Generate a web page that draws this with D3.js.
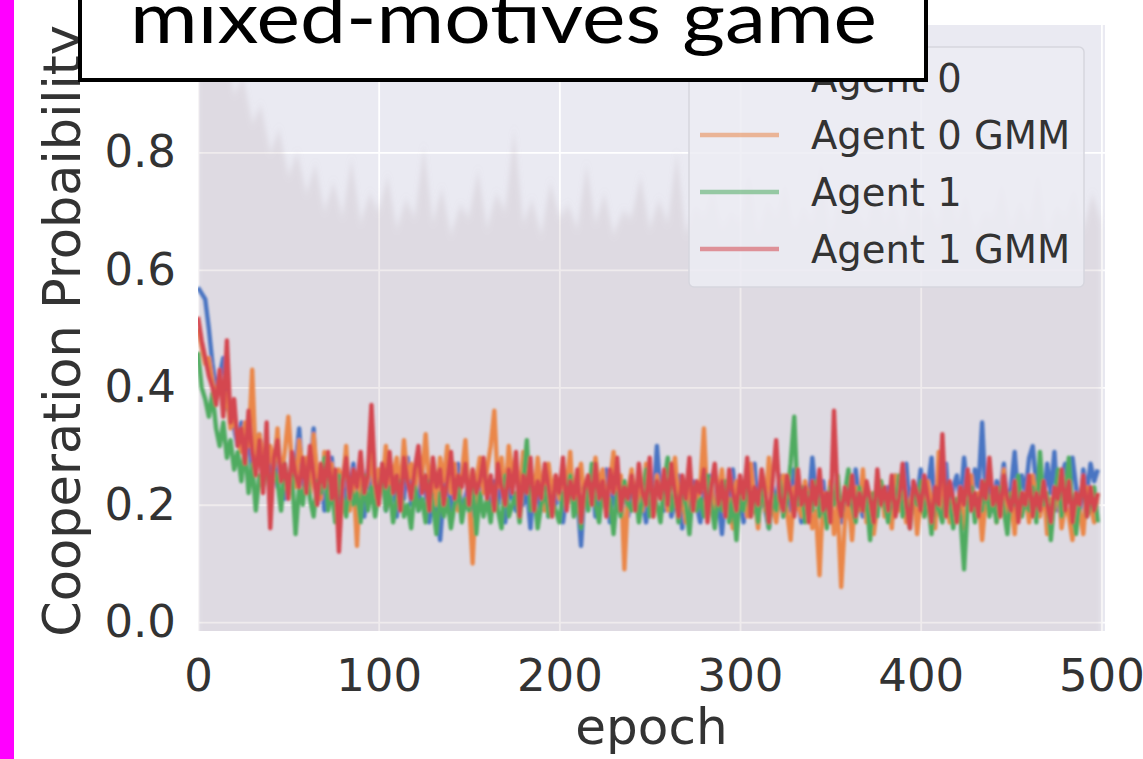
<!DOCTYPE html>
<html>
<head>
<meta charset="utf-8">
<script src="https://cdn.jsdelivr.net/npm/d3@7"></script>
<style>
  body { margin: 0; background: #fff; }
  svg { display: block; }
</style>
</head>
<body>
<div id="chart"></div>
<script>
// values, one point every 2 epochs
const seriesNames = ["Agent 0", "Agent 0 GMM", "Agent 1", "Agent 1 GMM"];
const seriesColors = ["#4a74c2", "#ea8748", "#4fab60", "#d4474f"];
const epochStep = 2;

const agent0 = [
  0.57,0.56,0.55,0.50,0.44,0.40,0.42,0.45,0.37,0.35,
  0.33,0.30,0.34,0.28,0.31,0.26,0.29,0.32,0.25,0.27,
  0.24,0.29,0.23,0.26,0.21,0.25,0.22,0.27,0.33,0.24,
  0.22,0.26,0.33,0.20,0.25,0.19,0.23,0.28,0.21,0.24,
  0.19,0.25,0.22,0.27,0.20,0.23,0.18,0.26,0.22,0.24,
  0.21,0.27,0.19,0.23,0.25,0.18,0.24,0.21,0.28,0.20,
  0.23,0.19,0.26,0.22,0.17,0.24,0.20,0.14,0.22,0.25,
  0.19,0.23,0.27,0.18,0.21,0.24,0.17,0.22,0.20,0.25,
  0.22,0.18,0.24,0.20,0.26,0.17,0.23,0.21,0.19,0.25,
  0.20,0.23,0.16,0.24,0.21,0.19,0.26,0.18,0.22,0.20,
  0.24,0.17,0.22,0.27,0.19,0.21,0.13,0.23,0.20,0.25,
  0.18,0.22,0.20,0.26,0.17,0.23,0.19,0.21,0.24,0.18,
  0.22,0.19,0.25,0.21,0.17,0.24,0.20,0.30,0.22,0.19,
  0.23,0.18,0.21,0.25,0.16,0.22,0.19,0.24,0.20,0.17,
  0.22,0.19,0.25,0.18,0.21,0.15,0.23,0.20,0.26,0.19,
  0.21,0.17,0.24,0.20,0.27,0.18,0.22,0.19,0.16,0.23,
  0.20,0.25,0.18,0.22,0.19,0.26,0.21,0.17,0.23,0.20,
  0.28,0.22,0.19,0.24,0.18,0.21,0.20,0.23,0.17,0.22,
  0.25,0.19,0.26,0.21,0.18,0.23,0.20,0.16,0.24,0.21,
  0.19,0.23,0.17,0.25,0.20,0.22,0.27,0.19,0.24,0.21,
  0.26,0.20,0.23,0.28,0.19,0.24,0.21,0.27,0.18,0.23,
  0.25,0.20,0.28,0.22,0.19,0.26,0.23,0.34,0.21,0.25,
  0.19,0.24,0.22,0.27,0.20,0.23,0.29,0.21,0.25,0.22,
  0.28,0.30,0.23,0.26,0.20,0.27,0.22,0.29,0.19,0.25,
  0.27,0.21,0.28,0.23,0.18,0.26,0.22,0.27,0.24,0.26
];

const agent0Gmm = [
  0.50,0.47,0.44,0.45,0.41,0.38,0.42,0.36,0.39,0.33,
  0.35,0.31,0.29,0.34,0.30,0.43,0.27,0.32,0.28,0.25,
  0.30,0.26,0.33,0.24,0.29,0.35,0.27,0.23,0.31,0.26,
  0.28,0.22,0.32,0.25,0.21,0.29,0.24,0.27,0.20,0.26,
  0.23,0.30,0.19,0.25,0.13,0.27,0.22,0.24,0.29,0.21,
  0.26,0.23,0.30,0.20,0.25,0.28,0.22,0.31,0.24,0.27,
  0.21,0.29,0.25,0.32,0.23,0.26,0.20,0.28,0.24,0.30,
  0.22,0.27,0.19,0.25,0.31,0.21,0.10,0.24,0.28,0.22,
  0.26,0.30,0.36,0.23,0.28,0.21,0.30,0.25,0.27,0.22,
  0.29,0.24,0.26,0.21,0.28,0.23,0.19,0.27,0.22,0.25,
  0.21,0.26,0.23,0.29,0.19,0.24,0.27,0.20,0.25,0.22,
  0.28,0.23,0.26,0.20,0.24,0.29,0.21,0.25,0.09,0.22,
  0.26,0.20,0.24,0.19,0.27,0.22,0.18,0.25,0.21,0.23,
  0.19,0.24,0.28,0.20,0.22,0.17,0.25,0.21,0.19,0.23,
  0.33,0.20,0.24,0.17,0.22,0.26,0.19,0.21,0.16,0.24,
  0.20,0.23,0.18,0.27,0.21,0.16,0.24,0.19,0.28,0.20,
  0.17,0.22,0.25,0.19,0.14,0.23,0.20,0.18,0.24,0.21,
  0.16,0.19,0.08,0.22,0.18,0.24,0.15,0.20,0.06,0.17,
  0.21,0.14,0.23,0.19,0.26,0.17,0.22,0.15,0.20,0.24,
  0.18,0.21,0.16,0.25,0.19,0.22,0.17,0.20,0.23,0.15,
  0.21,0.18,0.24,0.20,0.16,0.29,0.19,0.22,0.17,0.21,
  0.19,0.23,0.16,0.20,0.25,0.18,0.22,0.14,0.21,0.19,
  0.23,0.17,0.20,0.26,0.18,0.21,0.15,0.24,0.19,0.22,
  0.17,0.25,0.20,0.18,0.23,0.15,0.21,0.19,0.24,0.16,
  0.20,0.18,0.14,0.22,0.19,0.15,0.23,0.20,0.17,0.22
];

const agent1 = [
  0.46,0.40,0.38,0.35,0.39,0.33,0.30,0.34,0.28,0.31,
  0.26,0.29,0.24,0.30,0.22,0.27,0.19,0.25,0.23,0.28,
  0.21,0.26,0.24,0.19,0.27,0.22,0.25,0.15,0.23,0.20,
  0.26,0.21,0.18,0.24,0.22,0.28,0.19,0.23,0.17,0.25,
  0.21,0.18,0.24,0.20,0.22,0.17,0.25,0.19,0.23,0.18,
  0.22,0.26,0.19,0.23,0.17,0.21,0.24,0.18,0.20,0.16,
  0.23,0.19,0.21,0.17,0.24,0.20,0.15,0.22,0.18,0.21,
  0.16,0.20,0.23,0.17,0.21,0.19,0.24,0.15,0.22,0.18,
  0.21,0.17,0.23,0.19,0.16,0.25,0.18,0.20,0.22,0.17,
  0.24,0.31,0.19,0.22,0.16,0.20,0.23,0.18,0.21,0.19,
  0.17,0.22,0.20,0.25,0.18,0.21,0.16,0.23,0.19,0.27,
  0.20,0.17,0.23,0.19,0.21,0.15,0.22,0.18,0.24,0.20,
  0.19,0.23,0.17,0.21,0.26,0.18,0.22,0.20,0.17,0.24,
  0.28,0.19,0.22,0.17,0.24,0.20,0.15,0.23,0.19,0.21,
  0.18,0.25,0.20,0.16,0.22,0.19,0.24,0.17,0.21,0.14,
  0.22,0.19,0.25,0.18,0.21,0.17,0.23,0.20,0.16,0.22,
  0.19,0.24,0.18,0.21,0.27,0.35,0.20,0.23,0.17,0.22,
  0.19,0.24,0.18,0.21,0.16,0.23,0.20,0.25,0.18,0.22,
  0.26,0.20,0.17,0.23,0.19,0.21,0.14,0.22,0.18,0.24,
  0.20,0.17,0.22,0.19,0.25,0.18,0.21,0.16,0.23,0.20,
  0.24,0.18,0.21,0.15,0.22,0.19,0.17,0.23,0.20,0.16,
  0.21,0.18,0.09,0.20,0.23,0.17,0.21,0.19,0.24,0.18,
  0.21,0.17,0.23,0.19,0.15,0.22,0.20,0.25,0.18,0.21,
  0.19,0.23,0.17,0.29,0.20,0.22,0.14,0.21,0.26,0.18,
  0.22,0.28,0.19,0.15,0.21,0.24,0.18,0.20,0.23,0.17
];

const agent1Gmm = [
  0.52,0.48,0.45,0.42,0.40,0.37,0.43,0.35,0.48,0.34,
  0.38,0.30,0.33,0.27,0.36,0.29,0.25,0.31,0.22,0.34,
  0.16,0.28,0.31,0.24,0.27,0.21,0.29,0.25,0.23,0.28,
  0.22,0.30,0.25,0.20,0.27,0.23,0.29,0.21,0.26,0.12,
  0.24,0.28,0.21,0.26,0.23,0.29,0.22,0.25,0.37,0.24,
  0.20,0.27,0.23,0.29,0.22,0.25,0.19,0.28,0.24,0.21,
  0.26,0.30,0.22,0.25,0.19,0.28,0.23,0.26,0.20,0.24,
  0.29,0.21,0.25,0.23,0.27,0.20,0.26,0.22,0.24,0.28,
  0.21,0.25,0.19,0.27,0.23,0.20,0.26,0.22,0.29,0.18,
  0.25,0.22,0.28,0.19,0.24,0.21,0.27,0.23,0.18,0.25,
  0.22,0.28,0.19,0.24,0.21,0.26,0.17,0.23,0.25,0.20,
  0.27,0.21,0.24,0.18,0.26,0.22,0.28,0.19,0.23,0.21,
  0.25,0.19,0.27,0.22,0.20,0.28,0.18,0.24,0.21,0.26,
  0.20,0.27,0.22,0.18,0.25,0.21,0.28,0.19,0.24,0.22,
  0.26,0.17,0.23,0.27,0.20,0.24,0.18,0.26,0.22,0.19,
  0.25,0.21,0.28,0.18,0.23,0.20,0.26,0.22,0.17,0.24,
  0.31,0.21,0.19,0.25,0.22,0.18,0.26,0.20,0.23,0.17,
  0.24,0.20,0.26,0.19,0.22,0.17,0.36,0.21,0.18,0.23,
  0.20,0.25,0.18,0.22,0.19,0.24,0.21,0.17,0.26,0.20,
  0.23,0.19,0.25,0.18,0.21,0.27,0.20,0.16,0.24,0.22,
  0.19,0.25,0.21,0.17,0.23,0.20,0.32,0.18,0.24,0.21,
  0.17,0.23,0.20,0.26,0.19,0.22,0.18,0.24,0.21,0.28,
  0.20,0.23,0.18,0.25,0.21,0.19,0.24,0.17,0.22,0.20,
  0.25,0.18,0.22,0.19,0.24,0.20,0.17,0.23,0.21,0.26,
  0.19,0.24,0.17,0.22,0.20,0.25,0.18,0.23,0.19,0.22
];

// faint spread band, upper edge, one point every 5 epochs
const bandStep = 5;
const bandUpper = [
  0.99,1.00,0.96,0.98,0.90,0.93,0.85,0.88,0.80,0.84,
  0.76,0.80,0.73,0.78,0.70,0.75,0.69,0.79,0.68,0.73,
  0.70,0.76,0.67,0.72,0.69,0.81,0.68,0.74,0.66,0.71,
  0.69,0.77,0.67,0.73,0.70,0.84,0.68,0.72,0.66,0.75,
  0.69,0.71,0.67,0.78,0.68,0.73,0.66,0.70,0.69,0.76,
  0.67,0.72,0.68,0.80,0.66,0.71,0.69,0.74,0.67,0.70,
  0.68,0.77,0.66,0.72,0.69,0.75,0.67,0.71,0.68,0.79,
  0.66,0.73,0.69,0.70,0.67,0.76,0.68,0.72,0.66,0.74,
  0.69,0.71,0.67,0.78,0.68,0.73,0.66,0.70,0.69,0.75,
  0.67,0.72,0.68,0.77,0.66,0.71,0.69,0.74,0.67,0.73,
  0.68
];

const xTicks = [0, 100, 200, 300, 400, 500];
const yTicks = [0.0, 0.2, 0.4, 0.6, 0.8];
const titleText = "mixed-motives game";
const xLabel = "epoch";
const yLabel = "Cooperation Probaibility";

const width = 1143, height = 759;
const plot = { left: 198, right: 1105, top: 25, bottom: 631 };

const svg = d3.select("#chart")
  .append("svg")
    .attr("width", width)
    .attr("height", height)
    .style("font-family", "'DejaVu Sans', sans-serif");

svg.append("rect")
  .attr("width", width)
  .attr("height", height)
  .style("fill", "#fff");

const defs = svg.append("defs");
defs.append("filter")
    .attr("id", "soft")
  .append("feGaussianBlur")
    .attr("stdDeviation", 0.8);
defs.append("filter")
    .attr("id", "haze")
    .attr("x", "-5%").attr("y", "-5%").attr("width", "110%").attr("height", "110%")
  .append("feGaussianBlur")
    .attr("stdDeviation", "2.5 5");
defs.append("clipPath")
    .attr("id", "plotClip")
  .append("rect")
    .attr("x", plot.left)
    .attr("y", plot.top)
    .attr("width", plot.right - plot.left)
    .attr("height", plot.bottom - plot.top);

// magenta strip on the left edge
svg.append("rect")
  .attr("x", 0)
  .attr("y", 0)
  .attr("width", 14)
  .attr("height", height)
  .style("fill", "#ff00ff");

const x = d3.scaleLinear()
  .domain([0, 502])
  .range([plot.left, plot.right]);

const y = d3.scaleLinear()
  .domain([-0.015, 1.017])
  .range([plot.bottom, plot.top]);

// axes background
svg.append("rect")
  .attr("x", plot.left)
  .attr("y", plot.top)
  .attr("width", plot.right - plot.left)
  .attr("height", plot.bottom - plot.top)
  .style("fill", "#eaeaf2");

// grid
const gridX = svg.append("g")
  .attr("transform", `translate(0, ${plot.bottom})`)
  .call(d3.axisBottom(x).tickValues(xTicks).tickSize(-(plot.bottom - plot.top)).tickFormat(""));
const gridY = svg.append("g")
  .attr("transform", `translate(${plot.left}, 0)`)
  .call(d3.axisLeft(y).tickValues(yTicks).tickSize(-(plot.right - plot.left)).tickFormat(""));
[gridX, gridY].forEach(g => {
  g.select(".domain").remove();
  g.selectAll("line").attr("stroke", "#fff").attr("stroke-width", 1.8);
});

const plotArea = svg.append("g").attr("clip-path", "url(#plotClip)");

// spread band (soft, streaky top edge)
plotArea.append("path")
  .datum(bandUpper)
  .attr("d", d3.area()
    .x((d, i) => x(i * bandStep))
    .y0(y.range()[0] + 30)
    .y1(d => y(d)))
  .attr("filter", "url(#haze)")
  .style("fill", "#ad9ba5")
  .style("fill-opacity", 0.2);

// lines
const line = d3.line()
  .x((d, i) => x(i * epochStep))
  .y(d => y(d));

const lines = plotArea.append("g").attr("filter", "url(#soft)");
[agent0, agent0Gmm, agent1, agent1Gmm].forEach((values, k) => {
  lines.append("path")
    .datum(values)
    .attr("d", line)
    .attr("fill", "none")
    .attr("stroke", seriesColors[k])
    .attr("stroke-width", 4.4)
    .attr("stroke-linejoin", "round");
});

// tick labels
const xAxis = svg.append("g")
  .attr("transform", `translate(0, ${plot.bottom})`)
  .call(d3.axisBottom(x).tickValues(xTicks).tickSize(0).tickPadding(28).tickFormat(d3.format("d")));
const yAxis = svg.append("g")
  .attr("transform", `translate(${plot.left}, 0)`)
  .call(d3.axisLeft(y).tickValues(yTicks).tickSize(0).tickPadding(22).tickFormat(d3.format(".1f")));
[xAxis, yAxis].forEach(g => {
  g.select(".domain").remove();
  g.selectAll("text")
    .style("font-family", "'DejaVu Sans', sans-serif")
    .style("font-size", "45px")
    .style("fill", "#333");
});

svg.append("text")
  .attr("x", (plot.left + plot.right) / 2)
  .attr("y", 744)
  .attr("text-anchor", "middle")
  .style("font-size", "50px")
  .style("fill", "#333")
  .text(xLabel);

svg.append("text")
  .attr("transform", `translate(80, 331) rotate(-90)`)
  .attr("text-anchor", "middle")
  .style("font-size", "51px")
  .style("fill", "#333")
  .text(yLabel);

// legend
const legend = svg.append("g");
legend.append("rect")
  .attr("x", 689)
  .attr("y", 47)
  .attr("width", 395)
  .attr("height", 240)
  .attr("rx", 5)
  .style("fill", "#ececf3")
  .style("fill-opacity", 0.85)
  .style("stroke", "#d6d6de")
  .style("stroke-width", 1.5);

seriesNames.forEach((name, k) => {
  const cy = 78 + k * 57;
  legend.append("line")
    .attr("x1", 700)
    .attr("x2", 779)
    .attr("y1", cy)
    .attr("y2", cy)
    .attr("stroke", seriesColors[k])
    .attr("stroke-opacity", 0.55)
    .attr("stroke-width", 4.5);
  legend.append("text")
    .attr("x", 811)
    .attr("y", cy)
    .attr("dy", "0.36em")
    .style("font-size", "38.5px")
    .style("fill", "#333")
    .text(name);
});

// title box laid over the top of the chart
svg.append("rect")
  .attr("x", 80)
  .attr("y", -10)
  .attr("width", 846)
  .attr("height", 90)
  .style("fill", "#fff")
  .style("stroke", "#000")
  .style("stroke-width", 4);

svg.append("text")
  .attr("x", 130)
  .attr("y", 43)
  .attr("textLength", 747)
  .attr("lengthAdjust", "spacingAndGlyphs")
  .style("font-family", "Lato, 'Open Sans', sans-serif")
  .style("font-size", "72px")
  .style("fill", "#000")
  .text(titleText);
</script>
</body>
</html>
